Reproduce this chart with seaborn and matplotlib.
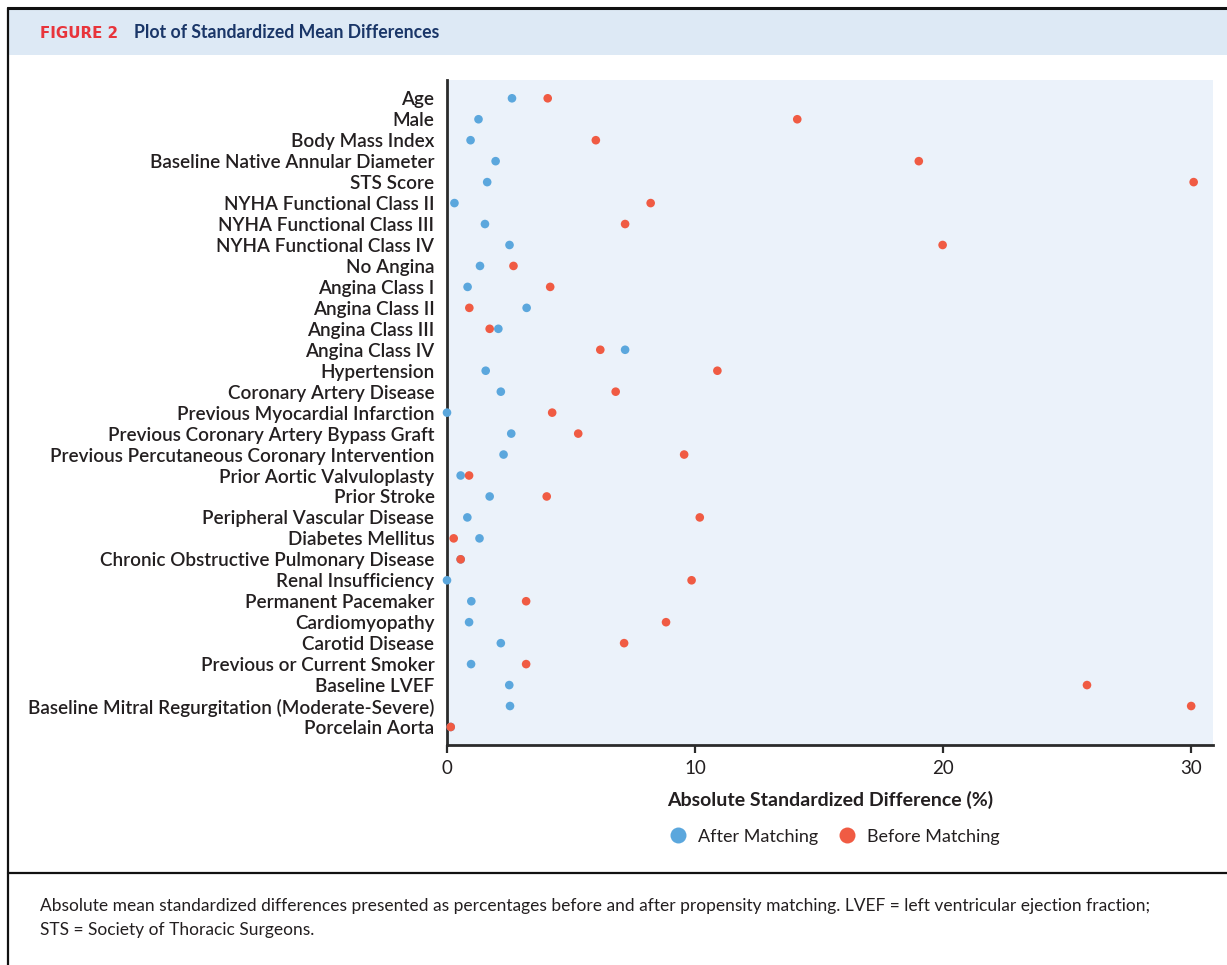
import matplotlib
matplotlib.use("Agg")
import matplotlib.pyplot as plt
from matplotlib.patches import Rectangle
from matplotlib.lines import Line2D
import seaborn as sns
import pandas as pd

variables = [
    "Age", "Male", "Body Mass Index", "Baseline Native Annular Diameter",
    "STS Score", "NYHA Functional Class II", "NYHA Functional Class III",
    "NYHA Functional Class IV", "No Angina", "Angina Class I",
    "Angina Class II", "Angina Class III", "Angina Class IV", "Hypertension",
    "Coronary Artery Disease", "Previous Myocardial Infarction",
    "Previous Coronary Artery Bypass Graft",
    "Previous Percutaneous Coronary Intervention",
    "Prior Aortic Valvuloplasty", "Prior Stroke",
    "Peripheral Vascular Disease", "Diabetes Mellitus",
    "Chronic Obstructive Pulmonary Disease", "Renal Insufficiency",
    "Permanent Pacemaker", "Cardiomyopathy", "Carotid Disease",
    "Previous or Current Smoker", "Baseline LVEF",
    "Baseline Mitral Regurgitation (Moderate-Severe)", "Porcelain Aorta",
]

after_matching = [
    2.62, 1.27, 0.95, 1.96, 1.62, 0.30, 1.53, 2.52, 1.33, 0.83,
    3.21, 2.07, 7.18, 1.56, 2.17, 0.00, 2.59, 2.28, 0.55, 1.72,
    0.82, 1.31, 0.55, 0.00, 0.98, 0.89, 2.17, 0.97, 2.51, 2.54, 0.15,
]

before_matching = [
    4.06, 14.12, 6.00, 19.02, 30.10, 8.21, 7.18, 19.98, 2.68, 4.16,
    0.90, 1.72, 6.18, 10.90, 6.80, 4.24, 5.29, 9.56, 0.89, 4.02,
    10.19, 0.27, 0.55, 9.86, 3.19, 8.83, 7.14, 3.19, 25.80, 30.00, 0.15,
]

groups = ["After Matching", "Before Matching"]
x_ticks = [0, 10, 20, 30]

BLUE = "#5BA7DD"
RED = "#F05B43"
NAVY = "#1A3668"
TEXT = "#231F20"

df = pd.DataFrame({
    "Variable": variables * 2,
    "Group": [groups[0]] * len(variables) + [groups[1]] * len(variables),
    "Value": after_matching + before_matching,
})

sns.set_theme(style="white")
plt.rcParams["font.family"] = ["Lato", "DejaVu Sans"]

W, H = 1227, 965
fig = plt.figure(figsize=(W / 100, H / 100), dpi=100)


def fx(px):
    return px / W


def fy(py):
    return 1 - py / H


# frame, header band and caption divider
fig.patches.append(Rectangle((fx(9), fy(55)), fx(W - 9), fy(9) - fy(55),
                             transform=fig.transFigure, facecolor="#DDE9F5",
                             edgecolor="none", zorder=0))
fig.add_artist(Line2D([fx(8), 1], [fy(8), fy(8)], color="#111111", lw=2.2))
fig.add_artist(Line2D([fx(8), fx(8)], [fy(8), 0], color="#111111", lw=1.6))
fig.add_artist(Line2D([fx(8), 1], [fy(873), fy(873)], color="#111111", lw=1.6))

fig.text(fx(40), fy(33), "FIGURE 2", color="#E8343B", fontsize=10.8,
         fontweight="bold", va="center", ha="left",
         family=["DejaVu Sans"])
fig.text(fx(134), fy(33), "Plot of Standardized Mean Differences", color=NAVY,
         fontsize=12.7, fontweight="bold", va="center", ha="left")

ax = fig.add_axes([fx(447), fy(745), fx(1213) - fx(447), fy(80) - fy(745)])
ax.set_facecolor("#EBF2FA")

sns.stripplot(data=df, x="Value", y="Variable", hue="Group", order=variables,
              hue_order=groups, palette=[BLUE, RED], jitter=False, dodge=False,
              size=6.2, linewidth=0, ax=ax, legend=False, zorder=3,
              clip_on=False)

ax.set_xlim(0, 30.88)
ax.set_ylim(len(variables) - 1 + 0.86, -0.873)
ax.set_xticks(x_ticks)
ax.set_xticklabels([str(t) for t in x_ticks])
for side in ["top", "right"]:
    ax.spines[side].set_visible(False)
for side in ["left", "bottom"]:
    ax.spines[side].set_color("#2B2B2B")
    ax.spines[side].set_linewidth(2.0)
ax.tick_params(axis="x", direction="out", length=6, width=1.6, color="#2B2B2B",
               labelsize=13.5, labelcolor=TEXT, pad=5, bottom=True)
ax.tick_params(axis="y", length=0, labelsize=13.6, labelcolor=TEXT, pad=9)
for lab in ax.get_yticklabels():
    lab.set_fontweight("semibold")
ax.set_ylabel("")
ax.set_xlabel("Absolute Standardized Difference (%)", fontsize=14,
              fontweight="bold", color=TEXT, labelpad=10)

handles = [Line2D([], [], marker="o", linestyle="none", markersize=11.5,
                  markerfacecolor=c, markeredgecolor="none") for c in (BLUE, RED)]
ax.legend(handles, groups, loc="center", bbox_to_anchor=(0.5, -0.138), ncol=2,
          frameon=False, fontsize=13.0, handletextpad=0.1, columnspacing=0.6,
          labelcolor=TEXT)

fig.text(fx(40), fy(906), "Absolute mean standardized differences presented as "
         "percentages before and after propensity matching. LVEF = left "
         "ventricular ejection fraction;", fontsize=12.5, color=TEXT,
         va="center", ha="left")
fig.text(fx(40), fy(930), "STS = Society of Thoracic Surgeons.", fontsize=12.5,
         color=TEXT, va="center", ha="left")

fig.savefig("out.png", dpi=100, facecolor="white")
